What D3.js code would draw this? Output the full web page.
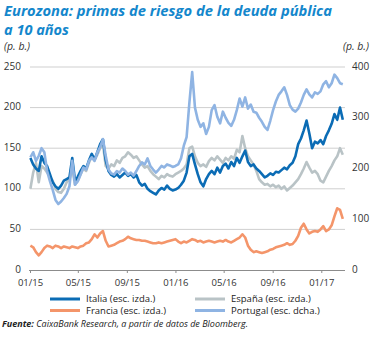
<!DOCTYPE html>
<html>
<head>
<meta charset="utf-8">
<script src="https://cdn.jsdelivr.net/npm/d3@7"></script>
<style>
  html, body { margin: 0; padding: 0; background: #ffffff; }
  svg { display: block; }
  text { font-family: "Open Sans", "Noto Sans", sans-serif; }
</style>
</head>
<body>
<svg id="chart" width="382" height="338"></svg>
<script>
// Weekly observations (Fridays) starting 2 Jan 2015
const startDate = "2015-01-02";

// Spreads vs. Bund, basis points
const italia = [138,130,125,122,140,132,128,118,108,103,100,104,110,112,114,138,110,115,122,128,
  125,135,143,136,145,155,161,135,122,117,115,118,114,117,120,116,118,114,117,108,
  104,106,100,97,95,93,98,101,99,104,100,98,99,101,105,110,120,140,143,130,
  118,108,103,112,118,122,118,126,120,128,131,125,133,128,138,132,140,147,133,128,
  130,125,122,118,114,116,119,117,121,120,123,126,124,129,132,140,155,162,172,184,
  168,150,158,156,160,155,165,172,180,192,185,200,185];

const espana = [100,120,132,108,128,125,120,115,110,100,96,95,100,108,112,125,105,110,118,125,
  122,132,140,135,142,150,155,128,125,130,128,135,132,138,140,145,142,138,140,135,
  130,126,128,122,118,115,112,116,114,118,116,115,118,120,122,125,130,150,152,140,
  132,128,130,127,134,138,135,140,136,132,138,135,140,137,148,145,165,150,140,135,
  130,122,112,108,105,106,103,105,102,104,100,103,98,101,104,108,112,118,125,133,
  126,120,122,118,110,108,115,122,128,135,140,150,142];

const francia = [30,28,22,18,22,27,30,29,27,30,29,27,29,28,27,29,28,27,29,30,
  33,34,38,44,40,45,48,36,29,30,31,33,35,36,38,41,39,38,37,37,
  36,36,35,34,33,33,34,33,34,35,36,37,38,35,33,35,34,36,38,37,
  35,36,34,35,36,35,34,35,36,35,37,35,34,36,38,40,44,40,30,25,
  22,23,22,21,22,23,25,26,28,29,30,31,33,31,32,36,42,52,57,50,
  45,47,48,47,50,54,48,50,55,66,76,74,63];

// Portugal is read on the right-hand scale
const portugal = [222,232,215,225,240,232,195,175,158,138,130,135,142,150,165,215,168,175,188,202,
  198,215,222,215,232,242,258,225,198,190,188,195,192,200,195,188,192,186,195,205,
  212,208,220,205,198,192,198,205,202,208,206,203,205,208,220,245,262,330,390,320,
  296,282,289,268,282,315,325,302,289,312,300,290,284,296,315,338,322,340,318,326,
  312,310,300,292,282,276,294,315,332,345,352,360,345,325,316,312,318,330,345,356,
  346,340,350,347,352,366,372,360,368,385,378,368,366];

const leftTicks = [0, 50, 100, 150, 200, 250];
const rightTicks = [0, 100, 200, 300, 400];

const seriesInfo = [
  { name: "Francia (esc. izda.)",  values: francia,  axis: "left",  color: "#f4956a" },
  { name: "España (esc. izda.)",   values: espana,   axis: "left",  color: "#b9c3c6" },
  { name: "Italia (esc. izda.)",   values: italia,   axis: "left",  color: "#0b6cb5" },
  { name: "Portugal (esc. dcha.)", values: portugal, axis: "right", color: "#8fb4e3" }
];

const svg = d3.select("#chart");
const parse = d3.utcParse("%Y-%m-%d");
const t0 = parse(startDate);
const dates = italia.map((_, i) => d3.utcDay.offset(t0, 7 * i));

const x = d3.scaleUtc()
  .domain([parse("2015-01-01"), parse("2017-03-01")])
  .range([30, 344.8]);
const yL = d3.scaleLinear().domain([0, 250]).range([270, 67]);
const yR = d3.scaleLinear().domain([0, 400]).range([270, 67]);

// Title
const title = svg.append("g").attr("fill", "#1487cc")
  .attr("font-weight", "bold").attr("font-style", "italic").attr("font-size", 15);
title.append("text").attr("x", 4).attr("y", 16)
  .attr("textLength", 328).attr("lengthAdjust", "spacingAndGlyphs")
  .text("Eurozona: primas de riesgo de la deuda pública");
title.append("text").attr("x", 4).attr("y", 34.5)
  .attr("textLength", 65).attr("lengthAdjust", "spacingAndGlyphs")
  .text("a 10 años");

// Unit labels
svg.append("text").attr("x", 4).attr("y", 50).attr("font-size", 10.5)
  .attr("font-style", "italic").attr("fill", "#333").text("(p. b.)");
svg.append("text").attr("x", 369).attr("y", 50).attr("font-size", 10.5)
  .attr("text-anchor", "end").attr("font-style", "italic").attr("fill", "#333").text("(p. b.)");

// Gridlines
svg.append("g").selectAll("line").data(leftTicks.filter(d => d > 0)).join("line")
  .attr("x1", 30).attr("x2", 345)
  .attr("y1", d => yL(d)).attr("y2", d => yL(d))
  .attr("stroke", "#cfcfcf").attr("stroke-width", 1);

// Left axis labels
svg.append("g").selectAll("text").data(leftTicks).join("text")
  .attr("x", 21).attr("y", d => yL(d) - 1).attr("dy", "0.35em")
  .attr("text-anchor", "end").attr("font-size", 10).attr("fill", "#333")
  .text(d => d);

// Right axis labels
svg.append("g").selectAll("text").data(rightTicks).join("text")
  .attr("x", 352).attr("y", d => yR(d) - 1).attr("dy", "0.35em")
  .attr("text-anchor", "start").attr("font-size", 10).attr("fill", "#333")
  .text(d => d);

// Bottom axis
const xAxis = d3.axisBottom(x)
  .ticks(d3.utcMonth.every(4))
  .tickFormat(d3.utcFormat("%m/%y"))
  .tickSize(3).tickPadding(6);
const gx = svg.append("g").attr("transform", "translate(0,270)").call(xAxis);
gx.select(".domain").attr("stroke", "#8c8c8c").attr("d", "M29,0.5H345");
gx.selectAll(".tick line").attr("stroke", "#8c8c8c");
gx.selectAll(".tick text").attr("font-size", 9.5).attr("fill", "#333")
  .attr("font-family", "'Open Sans', 'Noto Sans', sans-serif");

// Series lines
const lineFor = s => d3.line()
  .x((d, i) => x(dates[i]))
  .y(d => (s.axis === "left" ? yL(d) : yR(d)))
  .curve(d3.curveLinear);

svg.append("g").selectAll("path").data(seriesInfo).join("path")
  .attr("d", s => lineFor(s)(s.values))
  .attr("fill", "none")
  .attr("stroke", s => s.color)
  .attr("stroke-width", 2.6)
  .attr("stroke-linejoin", "round");

// Legend
const legendItems = [
  { s: seriesInfo[2], x: 50,  y: 299 },
  { s: seriesInfo[1], x: 195, y: 299 },
  { s: seriesInfo[0], x: 50,  y: 310.5 },
  { s: seriesInfo[3], x: 195, y: 310.5 }
];
const lg = svg.append("g").selectAll("g").data(legendItems).join("g")
  .attr("transform", d => `translate(${d.x},${d.y})`);
lg.append("line").attr("x1", 0).attr("x2", 30).attr("y1", 0).attr("y2", 0)
  .attr("stroke", d => d.s.color).attr("stroke-width", 3);
lg.append("text").attr("x", 36).attr("y", 0).attr("dy", "0.35em")
  .attr("font-size", 9.5).attr("fill", "#222").text(d => d.s.name);

// Source note
const src = svg.append("text").attr("x", 2).attr("y", 327)
  .attr("font-size", 9.5).attr("font-style", "italic").attr("fill", "#222")
  .attr("textLength", 246).attr("lengthAdjust", "spacingAndGlyphs");
src.append("tspan").attr("font-weight", "bold").text("Fuente:");
src.append("tspan").text(" CaixaBank Research, a partir de datos de Bloomberg.");
</script>
</body>
</html>
